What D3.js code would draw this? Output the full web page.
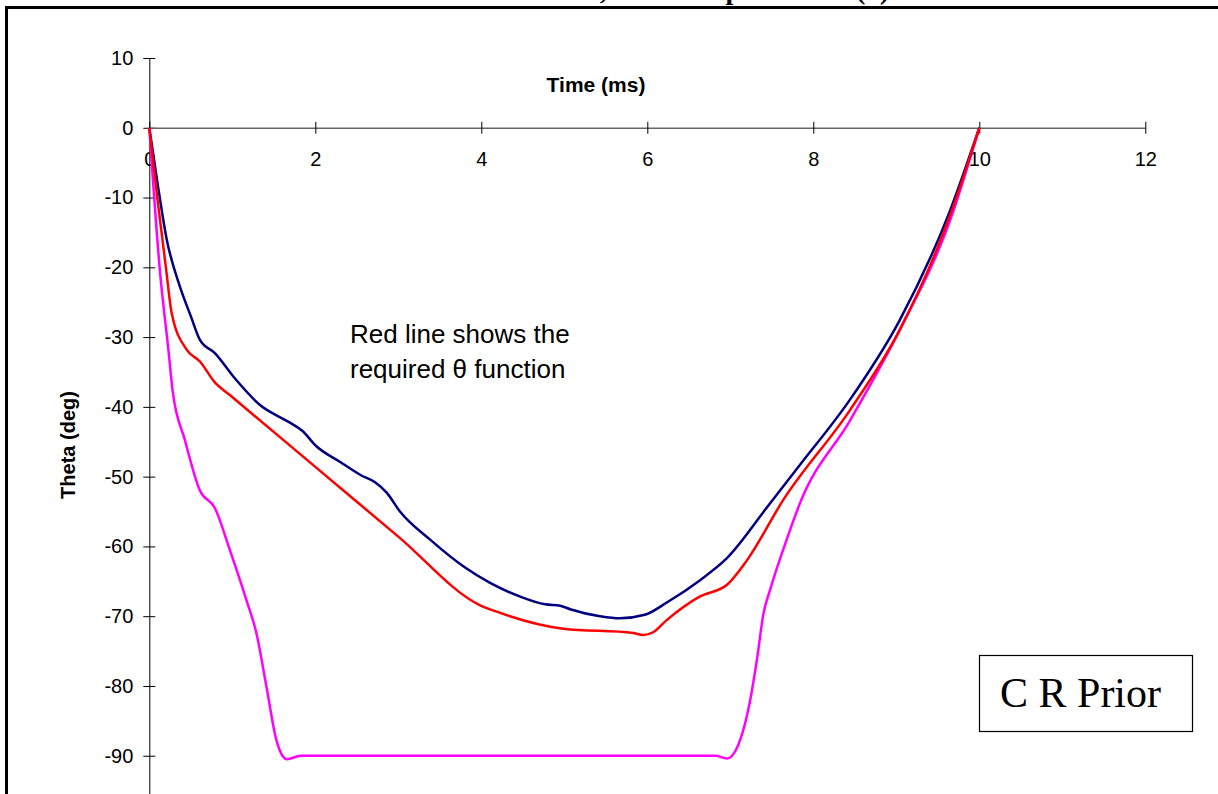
<!DOCTYPE html>
<html>
<head>
<meta charset="utf-8">
<script src="https://cdn.jsdelivr.net/npm/d3@7"></script>
<style>
  body { margin: 0; background: #fff; }
  svg { display: block; }
</style>
</head>
<body>
<div id="chart"></div>
<script>
const xTicks = [0, 2, 4, 6, 8, 10, 12];
const yTicks = [10, 0, -10, -20, -30, -40, -50, -60, -70, -80, -90];

const navyT = [0, 0.1, 0.21, 0.37, 0.5, 0.61, 0.79, 1.03, 1.33, 1.7, 1.85, 2.0, 2.3, 2.55, 2.72, 2.86, 3.02, 3.38, 3.8, 4.1, 4.47, 4.77, 4.95, 5.07, 5.43, 5.67, 5.97, 6.24, 6.64, 6.95, 7.48, 7.84, 8.44, 9.04, 9.65, 10];
const navyV = [0, -8, -16, -22.8, -27, -30.4, -32.3, -35.9, -39.7, -42.3, -43.5, -45.5, -47.9, -49.8, -50.8, -52.3, -55, -59, -63, -65.2, -67.2, -68.3, -68.5, -69, -70, -70.3, -69.8, -68, -64.8, -61.8, -53.8, -48.3, -39, -27.6, -11.8, 0];

const redT = [0, 0.1, 0.2, 0.27, 0.45, 0.61, 0.79, 0.97, 2.0, 3.0, 3.98, 4.22, 4.99, 5.83, 5.95, 6.07, 6.23, 6.63, 6.96, 7.2, 7.64, 8.44, 9.04, 9.65, 10];
const redV = [0, -10.4, -20, -26.6, -31.8, -33.5, -36.5, -38.3, -48.6, -58.6, -68.4, -69.5, -71.8, -72.4, -72.7, -72.3, -70.6, -67.2, -65.5, -62, -53.3, -40.5, -29, -12.5, 0];

const magT = [0, 0.13, 0.23, 0.28, 0.43, 0.61, 0.79, 0.97, 1.17, 1.29, 1.41, 1.53, 1.61, 1.66, 1.82, 6.82, 6.96, 7.12, 7.24, 7.32, 7.4, 7.48, 7.68, 7.84, 8.44, 9.04, 9.65, 10];
const magV = [0, -20.8, -31.8, -37.6, -44.8, -52, -54.5, -60.5, -67.7, -72.4, -80, -87.7, -90.1, -90.5, -90, -90, -90.4, -87.7, -82, -76.3, -69.6, -66.2, -59, -53.8, -42, -29, -13.2, 0];

const series = [
    {color: '#000080', t: navyT, v: navyV},
    {color: '#ff00ff', t: magT, v: magV},
    {color: '#ff0000', t: redT, v: redV}
];

const width = 1218, height = 794;

const x = d3.scaleLinear().domain([0, 12]).range([149.3, 1145.3]);
const y = d3.scaleLinear().domain([-100, 10]).range([825.5, 58]);

const svg = d3.select('#chart').append('svg')
    .attr('width', width).attr('height', height)
    .style('font-family', '"Liberation Sans", Arial, sans-serif');

// title, mostly cut off by the top of the picture
svg.append('text')
    .attr('x', 342).attr('y', -1)
    .style('font-family', '"Liberation Serif", "Times New Roman", serif')
    .style('font-weight', 'bold').style('font-size', '28px')
    .text('Motor Shaft Rotation, Time Response Plot (θ)');

// outer frame
svg.append('rect')
    .attr('x', 6.5).attr('y', 7.5)
    .attr('width', 1230).attr('height', 820)
    .attr('fill', 'none').attr('stroke', '#000').attr('stroke-width', 3);

// y axis
const yAxis = d3.axisLeft(y).tickValues(yTicks).tickSize(6).tickSizeOuter(0).tickPadding(10)
    .tickFormat((d) => String(d));
const gy = svg.append('g').attr('transform', 'translate(' + x(0) + ',0)').call(yAxis);
gy.selectAll('.tick line').attr('x1', -6).attr('x2', 6).attr('stroke', '#000');
gy.select('.domain').attr('stroke', '#000');
gy.selectAll('.tick text').style('font-size', '20px').attr('fill', '#000');

// x axis sits at theta = 0
const xAxis = d3.axisBottom(x).tickValues(xTicks).tickSize(6).tickSizeOuter(0).tickPadding(18)
    .tickFormat((d) => String(d));
const gx = svg.append('g').attr('transform', 'translate(0,' + y(0) + ')').call(xAxis);
gx.selectAll('.tick line').attr('y1', -6).attr('y2', 6).attr('stroke', '#000');
gx.select('.domain').attr('stroke', '#666').attr('stroke-width', 1.6);
gx.selectAll('.tick text').style('font-size', '20px').attr('fill', '#000');

// axis titles
svg.append('text')
    .attr('x', 596).attr('y', 92)
    .attr('text-anchor', 'middle')
    .style('font-weight', 'bold').style('font-size', '21px')
    .text('Time (ms)');

svg.append('text')
    .attr('transform', 'translate(75,445) rotate(-90)')
    .attr('text-anchor', 'middle')
    .style('font-weight', 'bold').style('font-size', '20px')
    .text('Theta (deg)');

// curves
const line = d3.line()
    .x((d) => x(d[0]))
    .y((d) => y(d[1]))
    .curve(d3.curveMonotoneX);

series.forEach((s) => {
    svg.append('path')
        .attr('d', line(s.t.map((t, i) => [t, s.v[i]])))
        .attr('fill', 'none')
        .attr('stroke', s.color)
        .attr('stroke-width', 2.5)
        .attr('stroke-linejoin', 'round');
});

// note
const note = svg.append('text').style('font-size', '26px');
note.append('tspan').attr('x', 350).attr('y', 343).text('Red line shows the');
note.append('tspan').attr('x', 350).attr('y', 378).text('required θ function');

// name box
svg.append('rect')
    .attr('x', 979.5).attr('y', 655.5)
    .attr('width', 213).attr('height', 76)
    .attr('fill', '#fff').attr('stroke', '#000').attr('stroke-width', 1.2);
svg.append('text')
    .attr('x', 1000).attr('y', 707)
    .style('font-family', '"Liberation Serif", "Times New Roman", serif')
    .style('font-size', '42px')
    .text('C R Prior');
</script>
</body>
</html>
